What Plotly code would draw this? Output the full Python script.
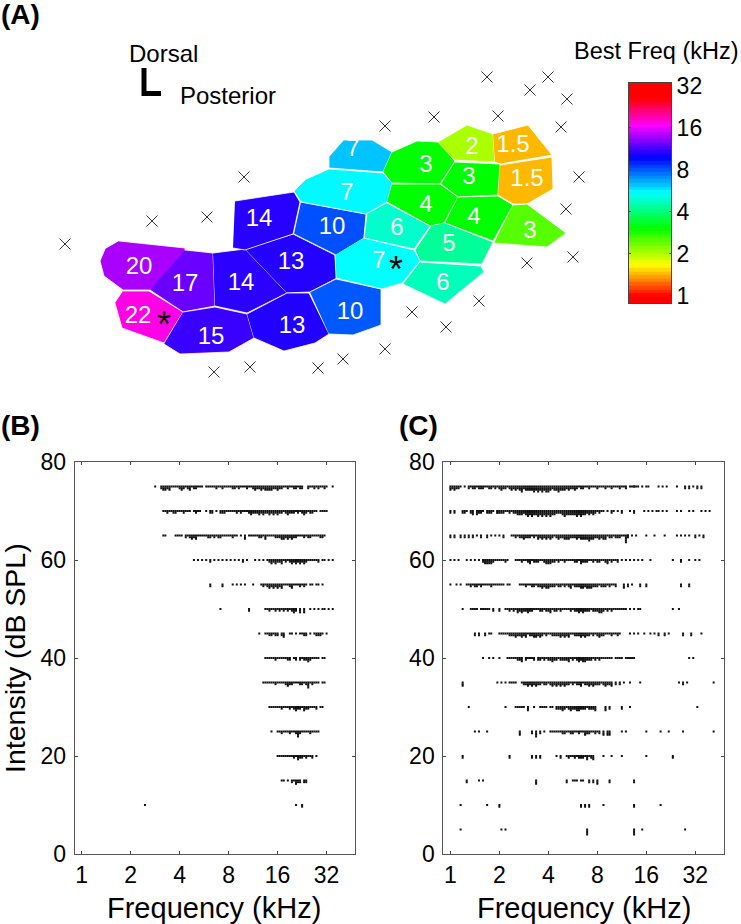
import math
import plotly.graph_objects as go

W, H = 741, 924
FONT = "Liberation Sans"

# ---------- Panel A: map units ----------
# vertices, in map coordinates
unit_labels = ["20", "17", "14", "13", "22", "15", "13", "10", "14", "10", "7", "7",
               "3", "2", "1.5", "3", "1.5", "4", "4", "3", "6", "5", "7", "6"]
unit_colors = ["#AA00FF", "#6A00FF", "#2C00FF", "#2400FF", "#FF00E6", "#3A00FF", "#2200FF", "#0058FF",
               "#2800FF", "#0050FF", "#00C4FF", "#00FAFF",
               "#00FF00", "#AAFF00", "#FFB800", "#00FF00", "#FFB800", "#00FF00", "#00FF00", "#55FF00",
               "#00FFCC", "#00FF99", "#00FFFF", "#00FFBB"]
unit_x = [
    [119, 185, 185, 123, 104, 100, 105],
    [185, 213, 215, 183, 150],
    [213, 245, 287, 247, 215],
    [245, 293, 335, 337, 310, 287],
    [123, 149, 183, 164, 122, 115],
    [183, 215, 247, 254, 229, 180, 164],
    [247, 287, 309, 329, 315, 284, 254],
    [310, 336, 381, 381, 353, 329],
    [235, 294, 300, 293, 245, 233],
    [301, 366, 364, 336, 294],
    [344, 372, 392, 383, 329, 329],
    [330, 383, 392, 387, 366, 301, 294, 305],
    [392, 417, 438, 455, 440, 392, 383],
    [438, 467, 493, 495, 455],
    [493, 528, 552, 500, 495],
    [455, 500, 498, 458, 441],
    [500, 552, 553, 527, 513, 498],
    [392, 440, 458, 444, 430, 387],
    [458, 498, 513, 493, 445],
    [513, 527, 566, 547, 494],
    [387, 430, 414, 364, 367],
    [445, 493, 482, 420, 415, 431],
    [364, 414, 420, 402, 382, 336, 335],
    [420, 481, 484, 445, 403],
]
unit_y = [
    [241, 248, 290, 290, 276, 261, 249],
    [250, 253, 306, 312, 290],
    [253, 249, 293, 313, 306],
    [249, 234, 255, 278, 292, 293],
    [291, 291, 312, 343, 328, 303],
    [312, 307, 314, 338, 352, 354, 344],
    [314, 293, 293, 334, 343, 351, 338],
    [292, 279, 289, 325, 335, 334],
    [201, 192, 202, 234, 250, 248],
    [202, 214, 238, 255, 234],
    [140, 140, 152, 172, 168, 157],
    [169, 173, 183, 202, 214, 202, 191, 180],
    [152, 141, 142, 161, 184, 183, 172],
    [142, 125, 134, 162, 160],
    [134, 125, 155, 164, 162],
    [162, 164, 195, 197, 184],
    [165, 157, 189, 204, 204, 195],
    [184, 184, 197, 223, 226, 202],
    [197, 196, 205, 241, 223],
    [205, 204, 233, 247, 243],
    [203, 226, 249, 238, 214],
    [223, 242, 264, 261, 250, 226],
    [238, 250, 261, 283, 289, 278, 255],
    [262, 266, 272, 304, 284],
]
label_x = [139, 185, 241, 291, 138, 211, 292, 350, 259, 332, 353, 347,
           426, 472, 513, 469, 527, 426, 474, 530, 397, 449, 379, 443]
label_y = [268, 285, 284, 263, 317, 338, 327, 313, 220, 228, 150, 194,
           166, 148, 146, 178, 180, 206, 218, 232, 229, 245, 262, 284]

electrode_x = [65, 152, 207, 244, 385, 214, 250, 318, 343, 385,
               487, 548, 530, 567, 434, 498, 561, 579, 566, 573, 527, 479, 412, 446]
electrode_y = [244, 221, 217, 177, 126, 372, 367, 368, 359, 349,
               77, 77, 90, 99, 117, 116, 127, 177, 209, 257, 263, 301, 312, 327]
star_x = [164, 396]
star_y = [317, 262]

# ---------- colour bar ----------
bar_ticks = [1, 2, 4, 8, 16, 32]
bar_levels = [0.85, 0.90, 0.96, 1.02, 1.08, 1.15, 1.22, 1.30, 1.38, 1.46, 1.55, 1.65, 1.75, 1.86, 1.98, 2.1,
              2.23, 2.37, 2.52, 2.68, 2.85, 3.03, 3.22, 3.42, 3.63, 3.86, 4.1, 4.36, 4.63, 4.92, 5.23, 5.56,
              5.9, 6.27, 6.67, 7.08, 7.53, 8.0, 8.5, 9.03, 9.6, 10.2, 10.8, 11.5, 12.2, 13.0, 13.8, 14.7,
              15.6, 16.6, 17.6, 18.7, 19.9, 21.1, 22.5, 23.9, 25.4, 27.0, 28.7, 30.5, 32.4, 34.4]
bar_anchor_khz = [1.0, 1.67, 3.07, 5.47, 9.8, 16.8, 26.0]
bar_anchor_rgb = ["#FF0000", "#FFFF00", "#00FF00", "#00FFFF", "#0000FF", "#FF00FF", "#FF0000"]

# ---------- rasters: intensity, then (first 1/24-octave cell above 1 kHz, spike counts per cell) ----------
b_levels = [75, 70, 65, 60, 55, 50, 45, 40, 35, 30, 25, 20, 15, 10]
b_75 = [(36, "1"), (39, "233231111232123122111"),
        (61, "111112112111122121112112322323333223221121122122"), (111, "2112121121"), (123, "1")]
b_70 = [(40, "11211221112111 1211"), (61, "1 22 1"),
        (68, "222111112121112322232322323232212322212123212211 1111")]
b_65 = [(40, "11"), (46, "1111 21232311111221212211111211 1 3 11111221311112223323232211121221111221")]
b_60 = [(55, "1 1 1 1"), (63, "2 1"), (67, "1 1 1 1"), (75, "1 1 2"), (81, "1"),
        (85, "1 1 1 12323223121232323232111112 11 1"), (123, "1")]
b_55 = [(63, "2"), (69, "2"), (74, "1 1 1 1"), (84, "1"), (88, "12123232323111231112121 11 11 1")]
b_50 = [(68, "1"), (82, "2"), (90, "1121121212121232 3 3"), (112, "1 1 1 11 1"), (123, "1")]
b_45 = [(87, "1"), (90, "1122122 23"), (102, "11 1 1122 1 12221 1")]
b_40 = [(90, "1111121111122 12 2122321111 11")]
b_35 = [(89, "1111112111123221112212412111 11")]
b_30 = [(92, "111111211121232213221112 11")]
b_25 = [(93, "1"), (96, "112111211242111121111")]
b_20 = [(96, "111111112132212112"), (115, "1")]
b_15 = [(98, "11 1"), (103, "21322 22")]
b_10 = [(31, "1"), (105, "1"), (108, "2")]
b_rows = [b_75, b_70, b_65, b_60, b_55, b_50, b_45, b_40, b_35, b_30, b_25, b_20, b_15, b_10]

c_levels = [75, 70, 65, 60, 55, 50, 45, 40, 35, 30, 25, 20, 15, 10, 5]
c_75 = [(0, "323221 1 212"),
        (12, "212221122121232212323234233334343434432334333232232122112111211121121112112 111"),
        (90, "111 1 11"), (102, "1 1 1"), (111, "1"), (115, "2 2"), (119, "1 2 2")]
c_70 = [(0, "2 2"), (6, "221 23 3221 2221 2"),
        (23, "22221121223332343433434343433222343333343433232321211 1 21 1 2"), (88, "1 2"),
        (95, "1 1 1 1"), (102, "1"), (104, "1 1"), (111, "1 1"), (117, "1 1"), (123, "1 1 1")]
c_65 = [(0, "2 2"), (5, "2 2 2 2"), (13, "1 2"), (18, "2 1 1 1 2"),
        (30, "1121223222121323232321232233322232333343322323312212221152"), (87, "1 1 1"), (96, "1"), (100, "1"),
        (105, "1"), (111, "1 1"), (115, "1"), (117, "1"), (120, "2 1 2")]
c_60 = [(0, "1 1 1"), (8, "1 1"), (12, "1 1"), (16, "2333321111121"),
        (32, "11121123122211233322121121111221322211212211231211"), (82, "2 1 1"), (88, "1 1 1 1"),
        (98, "1"), (109, "1"), (113, "2"), (117, "1"), (120, "1"), (122, "1")]
c_55 = [(0, "1"), (3, "1"), (5, "1"), (8, "112122121111211"), (23, "1111 11"),
        (34, "111211221223233222122121231222332333222122212112"), (85, "3 2 1"), (93, "2"), (96, "2"),
        (113, "2"), (117, "2")]
c_50 = [(6, "1"), (10, "1111 11111"), (21, "2"), (24, "2"),
        (27, "112121323223221112212231221211112122323222122233212121111111 1 1 1"), (93, "1"),
        (109, "1"), (112, "1")]
c_45 = [(12, "2 2"), (17, "2 1"), (20, "1"), (24, "111112223223231223323212112222323231122232322121232211121121"),
        (88, "1 1 1"), (95, "1"), (98, "1"), (100, "1 2"), (105, "2 1"), (114, "2"), (118, "2"), (123, "1")]
c_40 = [(16, "1"), (19, "1 1"), (24, "1"), (28, "11111223 21112"), (43, "2212122322122223121232332221212111111"),
        (81, "1111 11111"), (117, "1 1")]
c_35 = [(6, "3"), (23, "1 1"), (27, "1 1111"), (35, "122323232212212323232322121223122323222123223"),
        (81, "2 2 1"), (88, "1"), (93, "1"), (112, "1 2 1"), (129, "1")]
c_30 = [(9, "1"), (27, "1"), (32, "11111 3"), (41, "1"), (44, "1111 11"),
        (52, "22232123223322212223"), (76, "3 2"), (84, "2"), (88, "1"), (121, "1")]
c_25 = [(12, "1 1"), (18, "1"), (34, "3"), (40, "2 4 2"), (46, "1"), (49, "111111221122112113221121"), (73, "2 3 33"),
        (84, "1 1"), (96, "1"), (103, "1"), (107, "1"), (114, "1"), (129, "1")]
c_20 = [(6, "2"), (29, "2"), (40, "2 2 2"), (52, "1 2"), (57, "12112122213123"), (75, "1"), (79, "1"),
        (84, "1"), (96, "1"), (109, "2")]
c_15 = [(8, "2"), (14, "1 1"), (42, "3"), (57, "2"), (60, "111 11"), (68, "2 2 3"), (78, "2"), (90, "2")]
c_10 = [(5, "1"), (18, "1"), (24, "2"), (64, "2 2 2"), (75, "1"), (90, "2"), (103, "1")]
c_5 = [(5, "1"), (25, "1 1"), (67, "4"), (90, "4"), (94, "1"), (115, "1")]
c_rows = [c_75, c_70, c_65, c_60, c_55, c_50, c_45, c_40, c_35, c_30, c_25, c_20, c_15, c_10, c_5]

freq_ticks = [1, 2, 4, 8, 16, 32]
intensity_ticks = [0, 20, 40, 60, 80]


def spikes(levels, rows):
    xs, ys = [], []
    for level, row in zip(levels, rows):
        for start, counts in row:
            for k, ch in enumerate(counts):
                if ch != " ":
                    for j in range(int(ch)):
                        xs.append(2 ** ((start + k) / 24))
                        ys.append(level - j * 0.34)
    return xs, ys


fig = go.Figure()

for xs, ys, c in zip(unit_x, unit_y, unit_colors):
    fig.add_trace(go.Scatter(x=xs, y=ys, mode="lines", fill="toself", fillcolor=c,
                             line=dict(color="white", width=0.8), xaxis="x3", yaxis="y3",
                             hoverinfo="skip", showlegend=False))
fig.add_trace(go.Scatter(x=label_x, y=label_y, mode="text", text=unit_labels,
                         textfont=dict(family=FONT, size=24, color="white"),
                         xaxis="x3", yaxis="y3", showlegend=False))
fig.add_trace(go.Scatter(x=electrode_x, y=electrode_y, mode="markers",
                         marker=dict(symbol="x-thin-open", size=11, color="#333333",
                                     line=dict(color="#333333", width=1)),
                         xaxis="x3", yaxis="y3", showlegend=False))
fig.add_trace(go.Scatter(x=[144, 144, 161], y=[68, 93.5, 93.5], mode="lines",
                         line=dict(color="black", width=5), xaxis="x3", yaxis="y3", showlegend=False))

lo, hi = bar_anchor_khz[0], bar_anchor_khz[-1]
scale = [[(math.log2(k) - math.log2(lo)) / (math.log2(hi) - math.log2(lo)), c]
         for k, c in zip(bar_anchor_khz, bar_anchor_rgb)]
fig.add_trace(go.Heatmap(x=[0, 1], y=bar_levels,
                         z=[[math.log2(v), math.log2(v)] for v in bar_levels],
                         zmin=math.log2(lo), zmax=math.log2(hi), colorscale=scale, showscale=False,
                         xaxis="x4", yaxis="y4", hoverinfo="skip"))

bx, by = spikes(b_levels, b_rows)
cx, cy = spikes(c_levels, c_rows)
for xs, ys, xa_, ya_ in [(bx, by, "x", "y"), (cx, cy, "x2", "y2")]:
    fig.add_trace(go.Scatter(x=xs, y=ys, mode="markers",
                             marker=dict(symbol="square", size=2, color="#111111", line=dict(width=0)),
                             xaxis=xa_, yaxis=ya_, showlegend=False, hoverinfo="skip"))

axis_common = dict(showgrid=False, zeroline=False, showline=True, linecolor="#555555", linewidth=1,
                   mirror="ticks", ticks="inside", ticklen=3, tickcolor="#444444", tickwidth=1,
                   tickfont=dict(family=FONT, size=23, color="black"))
xrange = [-0.145 * math.log10(2), 5.58 * math.log10(2)]


def xa(x0, x1):
    return dict(axis_common, type="log", range=xrange, tickvals=freq_ticks, ticktext=[str(t) for t in freq_ticks],
                domain=[x0 / W, x1 / W])


layout = dict(
    width=W, height=H, margin=dict(l=0, r=0, t=0, b=0, pad=0, autoexpand=False),
    paper_bgcolor="white", plot_bgcolor="rgba(0,0,0,0)",
    font=dict(family=FONT, color="black"), showlegend=False,
    xaxis=dict(xa(74.6, 355), anchor="y"),
    yaxis=dict(axis_common, range=[0, 80], tickvals=intensity_ticks, domain=[70 / H, 462 / H], anchor="x",
               ticklabelstandoff=3),
    xaxis2=dict(xa(443.3, 723.7), anchor="y2"),
    yaxis2=dict(axis_common, range=[0, 80], tickvals=intensity_ticks, domain=[70 / H, 462 / H], anchor="x2",
                ticklabelstandoff=3),
    xaxis3=dict(range=[0, W], visible=False, domain=[0, 1], anchor="y3"),
    yaxis3=dict(range=[H, 0], visible=False, domain=[0, 1], anchor="x3"),
    xaxis4=dict(range=[0, 1], domain=[629 / W, 671 / W], anchor="y4", showticklabels=False, ticks="",
                showline=True, linecolor="#444444", mirror=True, showgrid=False, zeroline=False),
    yaxis4=dict(axis_common, type="log", range=[-0.167 * math.log10(2), 5.07 * math.log10(2)],
                tickvals=bar_ticks, ticktext=[str(t) for t in bar_ticks], side="right", anchor="x4",
                domain=[(H - 303) / H, (H - 83) / H], ticklen=2, linecolor="#444444"),
)
fig.update_layout(**layout)


def note(text, x, y, size, anchor="center", angle=0, bold=False, yshift=0):
    fig.add_annotation(x=x, y=y, xref="x3", yref="y3", text=f"<b>{text}</b>" if bold else text, showarrow=False,
                       xanchor=anchor, yanchor="middle", textangle=angle, yshift=yshift, borderpad=0,
                       font=dict(family=FONT, size=size, color="black"))


note("(A)", 0, 14, 28, "left", bold=True)
note("(B)", 0, 425, 28, "left", bold=True)
note("(C)", 398, 425, 28, "left", bold=True)
note("Dorsal", 163, 53, 24)
note("Posterior", 228, 95, 24)
note("Best Freq (kHz)", 656, 51, 23.5)
note("Frequency (kHz)", 214, 908, 29)
note("Frequency (kHz)", 584, 908, 29)
note("Intensity (dB SPL)", 15, 658, 28.5, angle=-90)
for sx, sy in zip(star_x, star_y):
    note("*", sx, sy, 36, yshift=-7)

fig.write_html("out.html", config={"displayModeBar": False},
               post_script="document.body.style.margin='0';document.documentElement.style.overflow='hidden';")
